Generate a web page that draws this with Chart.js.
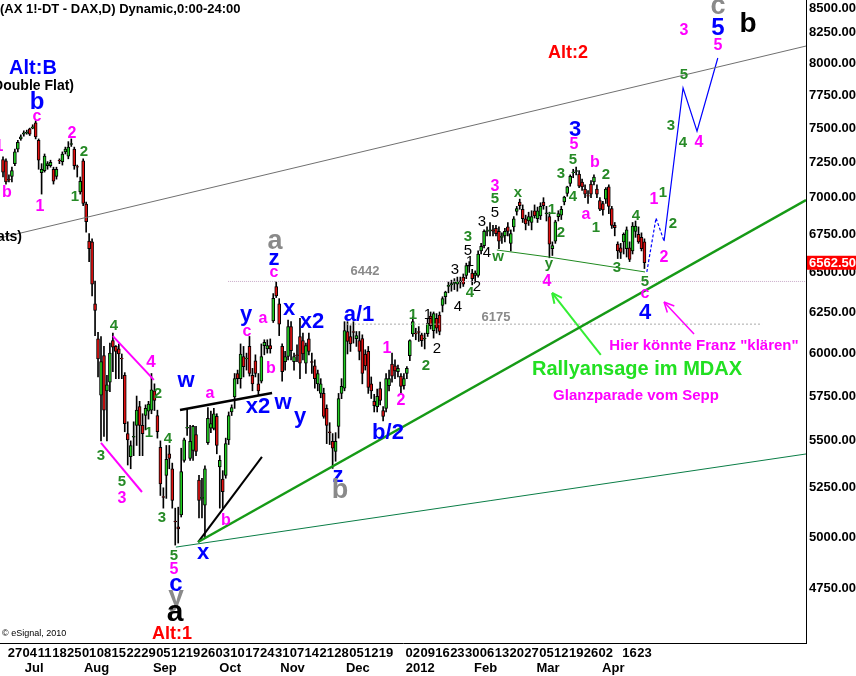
<!DOCTYPE html>
<html>
<head>
<meta charset="utf-8">
<script src="https://cdn.jsdelivr.net/npm/chart.js@4.4.1/dist/chart.umd.min.js"></script>
<style>
  html, body { margin: 0; padding: 0; background: #fff; }
  canvas { display: block; }
</style>
</head>
<body>
<canvas id="chart" width="856" height="676"></canvas>
<script>
// Daily DAX future candles, Jun 21 2011 .. Apr 23 2012 (index 0 = first bar)
const opens = [
  7270,7260,7130,7150,7240,7345,7420,7455,7465,7495,
  7500,7540,7410,7175,7190,7225,7225,7200,7150,7265,
  7255,7325,7295,7380,7345,7220,7040,7260,6955,6705,
  6700,6300,6085,5755,5985,5780,5830,6075,6040,6025,
  5970,5870,5540,5415,5520,5585,5690,5585,5640,5665,
  5670,5780,5640,5465,5205,5315,5430,5350,5080,5050,
  5110,5395,5570,5405,5448,5535,5290,5195,5160,5490,
  5570,5568,5635,5360,5295,5315,5505,5660,5745,5880,
  5850,5980,5965,6040,5870,5955,5820,5835,6045,6025,
  6045,6195,6410,6300,6040,5950,5980,6160,5950,5990,
  6100,6075,5940,6085,5950,5925,5820,5765,5765,5680,
  5550,5498,5443,5580,5765,5795,6130,6100,6130,6087,
  6075,6087,5995,6010,5820,5720,5690,5793,5668,5680,
  5810,5935,5925,5890,5865,5810,5880,5985,6115,6120,
  6130,6110,6085,6117,6225,6135,6210,6230,6290,6345,
  6410,6420,6430,6425,6440,6470,6480,6540,6495,6480,
  6480,6640,6675,6770,6775,6780,6790,6770,6730,6740,
  6800,6690,6800,6905,6970,6920,6855,6840,6830,6910,
  6855,6875,6970,6890,6870,6655,6705,6870,6880,6970,
  7030,7100,7175,7185,7165,7110,7060,7015,7095,7110,
  7060,6980,6960,6990,7075,6925,6810,6685,6660,6700,
  6655,6660,6640,6770,6750,6730,6700
];
const highs = [
  7290,7275,7160,7215,7345,7410,7450,7480,7485,7500,
  7525,7555,7420,7240,7310,7255,7265,7215,7215,7275,
  7325,7360,7400,7420,7360,7230,7145,7275,6970,6755,
  6720,6445,6125,6100,6040,5870,6060,6120,6045,6055,
  5995,5885,5605,5500,5605,5750,5720,5650,5700,5720,
  5880,5820,5670,5500,5250,5475,5475,5380,5145,5150,
  5460,5515,5680,5585,5585,5580,5315,5300,5365,5685,
  5665,5680,5650,5420,5340,5515,5660,5700,5880,5900,
  6055,6040,6000,6100,5910,5990,5880,6055,6080,6080,
  6085,6365,6440,6333,6055,6010,6200,6190,6000,6050,
  6210,6120,6060,6120,6000,5960,5900,5850,5795,5700,
  5600,5540,5545,5765,5850,6190,6190,6165,6190,6130,
  6130,6110,6020,6040,5860,5760,5790,5830,5690,5880,
  5900,6000,5960,5930,5880,5880,5920,6080,6220,6150,
  6160,6120,6120,6210,6250,6250,6240,6250,6345,6380,
  6440,6450,6460,6470,6470,6490,6560,6570,6520,6510,
  6640,6690,6780,6800,6830,6810,6810,6800,6760,6790,
  6830,6780,6870,6940,6990,6950,6880,6900,6910,6950,
  6935,6965,7000,6940,6900,6700,6845,6910,6940,7010,
  7080,7160,7200,7215,7190,7130,7090,7050,7120,7160,
  7090,7000,6975,7070,7090,6940,6830,6700,6690,6760,
  6800,6700,6830,6840,6800,6760,6720
];
const lows = [
  7145,7095,7110,7110,7225,7325,7410,7440,7455,7445,
  7495,7420,7200,7025,7180,7200,7215,7095,7130,7240,
  7230,7310,7275,7365,7200,7145,7025,6945,6765,6570,
  6350,6105,5860,5500,5525,5500,5775,5890,5850,5850,
  5850,5550,5370,5350,5420,5475,5420,5420,5560,5620,
  5650,5668,5515,5210,5145,5195,5350,5145,4960,4970,
  5100,5385,5530,5395,5395,5420,5095,5095,4995,5480,
  5545,5560,5430,5145,5145,5300,5480,5640,5680,5820,
  5795,5860,5900,5865,5780,5860,5755,5825,5990,6000,
  6000,6185,6340,6105,5835,5900,5960,5960,5900,5950,
  5850,5960,5880,5990,5880,5795,5780,5740,5625,5485,
  5480,5352,5390,5515,5735,5780,5995,6010,6060,6040,
  5960,5820,5900,5765,5736,5660,5660,5700,5610,5660,
  5780,5830,5850,5860,5760,5790,5850,5955,6100,6080,
  6070,6040,6025,6100,6145,6090,6120,6110,6250,6300,
  6370,6380,6390,6380,6400,6410,6460,6500,6420,6440,
  6470,6620,6660,6740,6740,6740,6740,6655,6690,6700,
  6740,6640,6770,6880,6920,6830,6780,6810,6780,6860,
  6830,6850,6920,6840,6595,6610,6690,6840,6850,6950,
  7010,7080,7140,7160,7070,7050,7000,6960,7000,7090,
  7000,6910,6880,6960,6890,6790,6740,6590,6590,6620,
  6600,6570,6620,6730,6690,6640,6525
];
const closes = [
  7180,7110,7125,7190,7325,7395,7435,7465,7470,7455,
  7510,7435,7265,7200,7295,7240,7250,7115,7200,7260,
  7310,7345,7360,7385,7225,7215,7115,6960,6835,6655,
  6425,6260,5965,5950,5670,5815,6000,6035,6010,5995,
  5965,5595,5505,5475,5525,5670,5585,5540,5680,5705,
  5785,5725,5550,5270,5200,5400,5405,5185,5075,5040,
  5335,5505,5575,5498,5580,5443,5185,5200,5350,5625,
  5595,5650,5475,5395,5230,5485,5640,5685,5850,5850,
  5995,5920,5970,5880,5820,5880,5780,5980,6065,6045,
  6025,6335,6350,6175,5890,5980,6160,6015,5980,5985,
  5940,5995,6045,6010,5945,5850,5880,5820,5635,5585,
  5545,5460,5498,5735,5805,6135,6070,6055,6125,6105,
  6010,5880,5925,5800,5780,5695,5748,5725,5635,5851,
  5851,5865,5895,5910,5805,5850,5910,6075,6190,6115,
  6125,6075,6090,6180,6165,6240,6150,6130,6333,6375,
  6418,6428,6436,6445,6446,6425,6545,6548,6460,6495,
  6620,6670,6770,6776,6781,6772,6755,6705,6736,6770,
  6770,6755,6855,6925,6945,6855,6820,6870,6870,6875,
  6910,6940,6945,6896,6685,6675,6835,6890,6920,7005,
  7075,7150,7180,7190,7080,7075,7025,7010,7025,7145,
  7025,6920,6915,7060,6940,6810,6795,6640,6630,6750,
  6780,6585,6805,6805,6700,6655,6562.5
];

// axis labels
const dayTickIdx = [4,9,14,19,24,29,34,39,44,49,54,59,64,69,74,79,84,89,94,99,104,109,114,119,124,129,
  138,143,148,153,158,163,168,173,178,183,188,193,198,203,211,216];
const dayTickLbl = ['27','04','11','18','25','01','08','15','22','29','05','12','19','26','03','10','17','24','31',
  '07','14','21','28','05','12','19','02','09','16','23','30','06','13','20','27','05','12','19','26','02','16','23'];
const monthIdx = [8,29,52,74,95,117,138,160,181,203];
const monthLbl = ['Jul','Aug','Sep','Oct','Nov','Dec','2012','Feb','Mar','Apr'];
const yTicks = [4750,5000,5250,5500,5750,6000,6250,6500,6750,7000,7250,7500,7750,8000,8250,8500];

// drawn lines: [bar index, price]
const upperChannel = [[-1, 6726], [270.4, 8136]];
const lowerChannel = [[58.2, 4950], [270.4, 5429]];
const mainTrend = [[65.7, 4975], [270.4, 6984]];
const steepTrend = [[65.7, 4975], [87.2, 5413]];
const wx2Line = [[59.6, 5671], [90.6, 5767]];
const wedgeTop = [[37.0, 6102], [50.8, 5843]];
const wedgeBottom = [[33.0, 5489], [46.8, 5228]];
const wyLine = [[166.3, 6646], [183.8, 6600], [216.2, 6503]];
const level6442 = [[75.8, 6442], [270.4, 6442]];
const level6175 = [[115.5, 6175], [255.6, 6175]];
const projection = [[216.8, 6503], [219.9, 6860], [222.6, 6705], [229, 7804], [233.7, 7478], [240.7, 8040]];
const mdaxArrow = [[201.3, 5989], [184.9, 6369]];
const franzArrow = [[232.7, 6115], [222.6, 6312]];

const FONT = '"Liberation Sans", Arial, sans-serif';
Chart.defaults.font.family = FONT;

const MAG = '#ff00ff', GRN = '#268a26', BLU = '#0000ff', BLK = '#000000', GRY = '#8a8a8a', RED = '#ff0000';
// [text, x, y, colour, size, weight, align]
const notes = [
  ['(AX 1!-DT - DAX,D) Dynamic,0:00-24:00', 0, 9, BLK, 13, 'bold', 'left'],
  ['Alt:B', 33, 68, BLU, 20],
  ['Double Flat)', 74, 86, BLK, 14, 'bold', 'right'],
  ['Flats)', 22, 237, BLK, 14, 'bold', 'right'],
  ['b', 37, 102, BLU, 24],
  ['c', 37, 117, MAG, 16],
  ['1', -1, 147, MAG, 16],
  ['b', 7, 193, MAG, 16],
  ['1', 40, 207, MAG, 16],
  ['2', 72, 134, MAG, 16],
  ['2', 84, 152, GRN, 15],
  ['1', 75, 197, GRN, 15],
  ['4', 114, 326, GRN, 15],
  ['4', 151, 362, MAG, 17],
  ['2', 158, 394, GRN, 15],
  ['1', 149, 433, GRN, 15],
  ['3', 101, 456, GRN, 15],
  ['5', 122, 482, GRN, 15],
  ['3', 122, 499, MAG, 16],
  ['4', 168, 439, GRN, 15],
  ['3', 162, 518, GRN, 15],
  ['5', 174, 556, GRN, 15],
  ['5', 174, 570, MAG, 16],
  ['c', 176, 584, BLU, 24],
  ['y', 176, 597, GRY, 28],
  ['a', 175, 613, BLK, 30],
  ['Alt:1', 172, 634, RED, 18],
  ['w', 186, 381, BLU, 22],
  ['a', 210, 394, MAG, 16],
  ['x', 203, 553, BLU, 22],
  ['b', 226, 521, MAG, 16],
  ['x2', 258, 407, BLU, 22],
  ['y', 246, 315, BLU, 22],
  ['c', 247, 332, MAG, 16],
  ['a', 263, 319, MAG, 16],
  ['b', 271, 369, MAG, 16],
  ['a', 275, 242, GRY, 27],
  ['z', 274, 259, BLU, 22],
  ['c', 274, 273, MAG, 16],
  ['x', 289, 309, BLU, 22],
  ['x2', 312, 322, BLU, 22],
  ['w', 283, 403, BLU, 22],
  ['y', 300, 417, BLU, 22],
  ['a/1', 359, 315, BLU, 22],
  ['1', 387, 349, MAG, 16],
  ['2', 401, 401, MAG, 16],
  ['z', 338, 476, BLU, 22],
  ['b', 340, 491, GRY, 27],
  ['b/2', 388, 433, BLU, 22],
  ['1', 413, 315, GRN, 15],
  ['2', 426, 366, GRN, 15],
  ['1', 428, 315, BLK, 15, 'normal'],
  ['2', 437, 349, BLK, 15, 'normal'],
  ['4', 458, 307, BLK, 15, 'normal'],
  ['3', 455, 270, BLK, 15, 'normal'],
  ['4', 470, 293, GRN, 15],
  ['2', 477, 287, BLK, 15, 'normal'],
  ['1', 470, 262, BLK, 15, 'normal'],
  ['5', 468, 251, BLK, 15, 'normal'],
  ['3', 468, 237, GRN, 15],
  ['4', 487, 253, BLK, 15, 'normal'],
  ['3', 482, 222, BLK, 15, 'normal'],
  ['5', 495, 213, BLK, 15, 'normal'],
  ['5', 495, 199, GRN, 15],
  ['3', 495, 187, MAG, 16],
  ['w', 498, 257, GRN, 15],
  ['x', 518, 193, GRN, 15],
  ['1', 552, 210, GRN, 15],
  ['2', 561, 233, GRN, 15],
  ['y', 549, 264, GRN, 15],
  ['4', 547, 282, MAG, 16],
  ['3', 561, 174, GRN, 15],
  ['4', 573, 197, GRN, 15],
  ['5', 573, 160, GRN, 15],
  ['5', 574, 145, MAG, 16],
  ['3', 575, 130, BLU, 22],
  ['a', 586, 215, MAG, 16],
  ['b', 595, 163, MAG, 16],
  ['2', 606, 175, GRN, 15],
  ['1', 596, 228, GRN, 15],
  ['4', 636, 216, GRN, 15],
  ['3', 617, 268, GRN, 15],
  ['5', 645, 282, GRN, 15],
  ['c', 645, 294, MAG, 16],
  ['4', 645, 313, BLU, 22],
  ['1', 654, 200, MAG, 16],
  ['1', 663, 193, GRN, 15],
  ['2', 673, 224, GRN, 15],
  ['2', 664, 258, MAG, 16],
  ['3', 671, 126, GRN, 15],
  ['4', 683, 143, GRN, 15],
  ['4', 699, 143, MAG, 16],
  ['5', 684, 75, GRN, 15],
  ['3', 684, 31, MAG, 16],
  ['5', 718, 46, MAG, 16],
  ['5', 718, 28, BLU, 24],
  ['c', 718, 7, GRY, 27],
  ['b', 748, 24, BLK, 28],
  ['Alt:2', 568, 53, RED, 18],
  ['6442', 365, 271, GRY, 13],
  ['6175', 496, 317, GRY, 13],
  ['Hier könnte Franz "klären"', 704, 346, MAG, 15],
  ['Rallyansage im MDAX', 637, 369, '#22e022', 20],
  ['Glanzparade vom Sepp', 636, 396, MAG, 15],
  ['\u00a9 eSignal, 2010', 2, 634, BLK, 9, 'normal', 'left']
];

const idx = closes.map((_, i) => i);
const wickData = idx.map(i => ({ x: i, y: [lows[i], highs[i]] }));
const bodyData = idx.map(i => ({ x: i, y: [opens[i], closes[i]] }));
const bodyColors = idx.map(i => closes[i] >= opens[i] ? '#22cc22' : '#e01010');

function lineSet(pts, color, width, extra) {
  return Object.assign({
    type: 'line',
    data: pts.map(p => ({ x: p[0], y: p[1] })),
    borderColor: color,
    borderWidth: width,
    pointRadius: 0,
    fill: false,
    tension: 0,
    order: 1
  }, extra || {});
}

const notesPlugin = {
  id: 'notes',
  afterDraw(chart) {
    const c = chart.ctx;
    const area = chart.chartArea;
    // arrow heads
    chart.data.datasets.forEach((ds, i) => {
      if (!ds.arrowHead) return;
      const pts = chart.getDatasetMeta(i).data;
      const a = pts[pts.length - 2], b = pts[pts.length - 1];
      const ang = Math.atan2(b.y - a.y, b.x - a.x);
      c.save();
      c.strokeStyle = ds.borderColor;
      c.lineWidth = ds.borderWidth;
      c.beginPath();
      [-0.45, 0.45].forEach(d => {
        c.moveTo(b.x, b.y);
        c.lineTo(b.x - 11 * Math.cos(ang + d), b.y - 11 * Math.sin(ang + d));
      });
      c.stroke();
      c.restore();
    });
    // last price box
    const last = closes[closes.length - 1];
    const py = chart.scales.y.getPixelForValue(last);
    c.save();
    c.fillStyle = '#ff0000';
    c.fillRect(area.right + 1, py - 7, 50, 14);
    c.fillStyle = '#ffffff';
    c.font = 'bold 13px ' + FONT;
    c.textAlign = 'left';
    c.textBaseline = 'middle';
    c.fillText(last.toFixed(2), area.right + 3, py + 1);
    // wave labels and comments
    notes.forEach(n => {
      c.font = (n[5] || 'bold') + ' ' + n[4] + 'px ' + FONT;
      c.fillStyle = n[3];
      c.textAlign = n[6] || 'center';
      c.textBaseline = 'middle';
      c.fillText(n[0], n[1], n[2]);
    });
    c.restore();
  }
};

new Chart(document.getElementById('chart').getContext('2d'), {
  type: 'bar',
  data: {
    datasets: [
      { type: 'bar', data: wickData, backgroundColor: '#000', barThickness: 1, grouped: false, order: 3 },
      { type: 'bar', data: bodyData, backgroundColor: bodyColors, borderColor: '#000', borderWidth: 1,
        borderSkipped: false, barThickness: 3, grouped: false, order: 2 },
      lineSet(upperChannel, '#707070', 1),
      lineSet(lowerChannel, '#0a7d46', 1),
      lineSet(mainTrend, '#169a16', 2.5),
      lineSet(steepTrend, '#000', 2),
      lineSet(wx2Line, '#000', 2.5),
      lineSet(wedgeTop, MAG, 2),
      lineSet(wedgeBottom, MAG, 2),
      lineSet(wyLine, '#1f8a1f', 1),
      lineSet(level6442, '#c8a8c8', 1, { borderDash: [1, 1] }),
      lineSet(level6175, '#a8a8a8', 1, { borderDash: [2, 2] }),
      lineSet(projection, BLU, 1.2, { segment: { borderDash: ctx => ctx.p0DataIndex < 2 ? [3, 2] : undefined } }),
      lineSet(mdaxArrow, '#33ee33', 2, { arrowHead: true }),
      lineSet(franzArrow, MAG, 1.5, { arrowHead: true })
    ]
  },
  options: {
    responsive: false,
    animation: false,
    devicePixelRatio: 1,
    layout: { padding: 0 },
    plugins: { legend: { display: false }, tooltip: { enabled: false } },
    scales: {
      x: {
        type: 'linear', position: 'bottom', min: -1.01, max: 270.4, offset: false, weight: 0,
        grid: { display: false, drawTicks: false },
        border: { display: true, color: '#000', width: 1 },
        afterBuildTicks: s => { s.ticks = dayTickIdx.map(v => ({ value: v })); },
        afterFit: s => { s.height = 18; s.paddingLeft = 0; s.paddingRight = 0; },
        ticks: { autoSkip: false, maxRotation: 0, minRotation: 0, padding: 3, color: '#000',
          font: { size: 13, weight: 'bold' }, callback: (v, i) => dayTickLbl[i] }
      },
      xm: {
        type: 'linear', position: 'bottom', min: -1.01, max: 270.4, offset: false, weight: 1,
        grid: { display: false, drawTicks: false },
        border: { display: false },
        afterBuildTicks: s => { s.ticks = monthIdx.map(v => ({ value: v + 2.5 })); },
        afterFit: s => { s.height = 15; s.paddingLeft = 0; s.paddingRight = 0; },
        ticks: { autoSkip: false, maxRotation: 0, minRotation: 0, padding: 0, color: '#000',
          font: { size: 13, weight: 'bold' }, callback: (v, i) => monthLbl[i] }
      },
      y: {
        type: 'logarithmic', position: 'right', min: 4501, max: 8516, beginAtZero: false,
        grid: { display: false, drawTicks: false },
        border: { display: true, color: '#000', width: 1 },
        afterBuildTicks: s => { s.ticks = yTicks.map(v => ({ value: v })); },
        afterFit: s => { s.width = 50; s.paddingTop = 0; s.paddingBottom = 0; },
        ticks: { padding: 3, color: '#000', font: { size: 13, weight: 'bold', lineHeight: 1 },
          callback: v => v === 8500 ? ['', v.toFixed(2)] : Number(v).toFixed(2) }
      }
    }
  },
  plugins: [notesPlugin]
});
</script>
</body>
</html>
